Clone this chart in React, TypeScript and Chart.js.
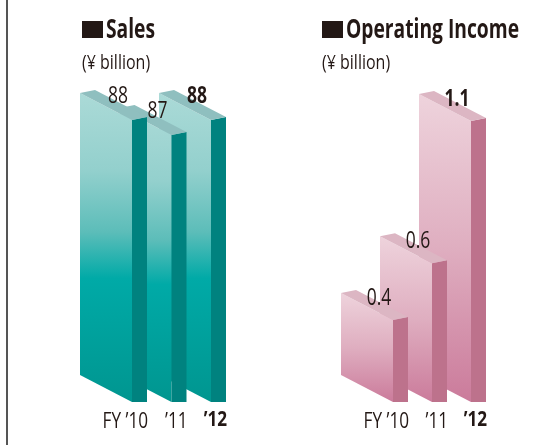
import React, { useEffect, useRef } from "react";
import { Chart, registerables } from "chart.js";
Chart.register(...registerables);

const years = ["FY \u201910", "\u201911", "\u201912"];
const salesValues = [88, 87, 88];
const salesLabels = ["88", "87", "88"];
const incomeValues = [0.4, 0.6, 1.1];
const incomeLabels = ["0.4", "0.6", "1.1"];

const FONT = "'Open Sans', 'Noto Sans', sans-serif";
const INK = "#231815";

function squeezedText(ctx: CanvasRenderingContext2D, text: string, x: number, y: number, align: "center" | "right", sx: number) {
  ctx.save();
  ctx.translate(x, y);
  ctx.scale(sx, 1);
  ctx.textAlign = align;
  ctx.textBaseline = "alphabetic";
  ctx.fillText(text, 0, 0);
  ctx.restore();
}

const slabPlugin = {
  id: "slab3d",
  afterDatasetsDraw(chart: any, _args: any, opts: any) {
    const { ctx } = chart;
    const meta = chart.getDatasetMeta(0);
    const yScale = chart.scales.y;
    const xScale = chart.scales.x;
    const basePx = yScale.getPixelForValue(yScale.min);
    const FW = 52, DROP = 27, DX = 15, DY = -3;
    const els = meta.data;
    ctx.save();
    for (let i = els.length - 1; i >= 0; i--) {
      const { x, y } = els[i].getProps(["x", "y"], true);
      const base = basePx;
      const L = x - FW / 2, R = L + FW;
      const grad = ctx.createLinearGradient(0, y, 0, base + DROP);
      opts.stops.forEach(([o, c]: [number, string]) => grad.addColorStop(o, c));
      ctx.beginPath();
      ctx.moveTo(L, y); ctx.lineTo(R, y + DROP); ctx.lineTo(R, base + DROP); ctx.lineTo(L, base);
      ctx.closePath(); ctx.fillStyle = grad; ctx.fill();
      ctx.beginPath();
      ctx.moveTo(R, y + DROP); ctx.lineTo(R + DX, y + DROP + DY); ctx.lineTo(R + DX, base + DROP); ctx.lineTo(R, base + DROP);
      ctx.closePath(); ctx.fillStyle = opts.side; ctx.fill();
      ctx.beginPath();
      ctx.moveTo(L, y); ctx.lineTo(L + DX, y + DY); ctx.lineTo(R + DX, y + DROP + DY); ctx.lineTo(R, y + DROP);
      ctx.closePath(); ctx.fillStyle = opts.topColor; ctx.fill();
    }
    ctx.fillStyle = INK;
    const last = els.length - 1;
    els.forEach((el: any, i: number) => {
      const { x, y } = el.getProps(["x", "y"], true);
      ctx.font = `${i === last ? "bold" : "500"} 23px ${FONT}`;
      squeezedText(ctx, opts.labels[i], x + opts.dx, y + opts.dy, "center", 0.76);
    });
    // category labels from the x scale
    const ticks = xScale.getLabels();
    ticks.forEach((t: string, i: number) => {
      const px = xScale.getPixelForTick(i);
      ctx.font = `${i === last ? "bold" : "500"} 22px ${FONT}`;
      squeezedText(ctx, t, px + 42, basePx + (i === last ? 51 : 53), "right", 0.78);
    });
    ctx.restore();
  },
};

function BarChart(props: {
  values: number[]; labels: string[]; min: number; max: number;
  padLeft: number; padRight: number; stops: [number, string][]; side: string; topColor: string; dy: number;
}) {
  const ref = useRef<HTMLCanvasElement>(null);
  useEffect(() => {
    const chart = new Chart(ref.current!, {
      type: "bar",
      data: {
        labels: years,
        datasets: [{ data: props.values, base: props.min, backgroundColor: "transparent", borderWidth: 0 } as any],
      },
      options: {
        animation: false,
        responsive: false,
        devicePixelRatio: 1,
        layout: { padding: { left: props.padLeft, right: props.padRight, top: 60, bottom: 70 } },
        plugins: {
          legend: { display: false },
          tooltip: { enabled: false },
          slab3d: { stops: props.stops, side: props.side, topColor: props.topColor, labels: props.labels, dx: 12, dy: props.dy },
        } as any,
        scales: {
          y: { display: false, min: props.min, max: props.max },
          x: { display: false, offset: true },
        },
      },
      plugins: [slabPlugin],
    });
    return () => chart.destroy();
  }, []);
  return <canvas ref={ref} width={279} height={445} />;
}

function Title(props: { left: number; text: string; gap: number }) {
  return (
    <>
      <div style={{ position: "absolute", left: props.left, top: 21, width: 21, height: 17, background: INK }} />
      <div style={{ position: "absolute", left: props.left + 21 + props.gap, top: 15, font: `bold 26px/26px ${FONT}`, color: INK, whiteSpace: "nowrap", transform: "scaleX(0.74)", transformOrigin: "0 0" }}>
        {props.text}
      </div>
      <div style={{ position: "absolute", left: props.left, top: 52, font: `500 20px/20px ${FONT}`, color: INK, whiteSpace: "nowrap", transform: "scaleX(0.8)", transformOrigin: "0 0" }}>
        (¥ billion)
      </div>
    </>
  );
}

export default function App() {
  return (
    <div style={{ position: "absolute", left: 0, top: 0, width: 558, height: 445, background: "#fff", overflow: "hidden" }}>
      <div style={{ position: "absolute", left: 6, top: 0, width: 2, height: 445, background: "#555" }} />
      <div style={{ position: "absolute", left: 0, top: 0 }}>
        <BarChart
          values={salesValues} labels={salesLabels} min={69.2} max={90.2}
          padLeft={86.25} padRight={74.25}
          stops={[[0, "#abdad7"], [0.25, "#93d0cd"], [0.45, "#5cbdb9"], [0.6, "#00aaa7"], [1, "#009690"]]}
          side="#00827f" topColor="#8fbfbf" dy={10}
        />
      </div>
      <div style={{ position: "absolute", left: 279, top: 0 }}>
        <BarChart
          values={incomeValues} labels={incomeLabels} min={0.1116} max={1.2196}
          padLeft={68.5} padRight={93.5}
          stops={[[0, "#eed3dc"], [0.5, "#dfaec0"], [1, "#cb7b9b"]]}
          side="#bd728c" topColor="#dcb6c3" dy={12}
        />
      </div>
      <Title left={82} text="Sales" gap={3} />
      <Title left={322} text="Operating Income" gap={3} />
    </div>
  );
}
